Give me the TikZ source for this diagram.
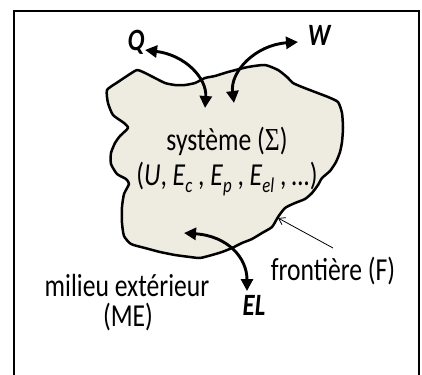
\documentclass[tikz,border=0pt]{standalone}
\usepackage{fontspec}
\setmainfont{Carlito}[FakeStretch=0.8]
\newfontfamily\sigfont{Liberation Serif}[FakeStretch=0.8]
\usetikzlibrary{arrows.meta}
\definecolor{blobfill}{HTML}{EEECE1}
\newcommand\sbx[1]{\raisebox{-0.22em}{\fontsize{21}{21}\selectfont\itshape #1}}
\tikzset{
  lbl/.style={inner sep=0pt, font=\fontsize{32}{35}\selectfont},
  flux/.style={inner sep=0pt, font=\fontsize{31}{34}\selectfont\bfseries\itshape},
  exch/.style={line width=2.9pt, {Triangle[length=12pt,width=12pt]}-{Triangle[length=12pt,width=12pt]}},
  pointer/.style={line width=0.8pt, -{Straight Barb[length=6pt,width=8pt]}}
}
\begin{document}
\begin{tikzpicture}[x=1pt,y=-1pt]
\useasboundingbox (0,0) rectangle (422,374);
% frame
\draw[line width=2.4pt] (14,375) -- (14,11) -- (419,11) -- (419,375);
% system blob
\draw[line width=2.5pt, fill=blobfill, line join=round]
  plot[smooth cycle, tension=0.35] coordinates {
  (107,90) (118,82) (130,74) (137,70) (143,72) (153,77) (165,83) (175,85)
  (185,85) (195,83) (205,78) (215,76) (228,72) (248,67) (265,65) (278,70)
  (287,77) (293,83) (302,87) (315,92) (328,97) (338,102) (342,113) (343,128)
  (342,142) (340,152) (336,162) (330,171) (322,178) (318,185) (312,193) (305,199)
  (295,203) (285,208) (278,217) (272,227) (262,233) (252,239) (242,243) (232,248)
  (222,252) (212,255) (200,258) (190,257) (175,255) (160,252) (145,248) (131,244)
  (124,236) (122,223) (122,207) (124,194) (129,184) (126,179) (117,174) (111,164)
  (111,153) (115,143) (120,136) (128,128) (124,123) (113,115) (108,103)};
% texts
\node[lbl, anchor=base] (sys) at (227,150) {système ({\sigfont Σ})};
\node[lbl, anchor=base] (vars) at (227,185) {(\textit{U}, \textit{E}\sbx{c} , \textit{E}\sbx{p} , \textit{E}\sbx{el} , \textit{…})};
\node[lbl, anchor=base] (front) at (333,280) {frontière (F)};
\node[lbl, anchor=base] (milieu) at (127,296) {milieu extérieur};
\node[lbl, anchor=base] (me) at (128,326) {(ME)};
\node[flux, anchor=base] (Q) at (136,51) {Q};
\node[flux, anchor=base] (W) at (319,46) {W};
\node[flux, anchor=base] (EL) at (254,315) {EL};
% arrow end points
\coordinate (qa) at (145,50);
\coordinate (qb) at (205,108);
\coordinate (wa) at (298,42);
\coordinate (wb) at (234,103);
\coordinate (ea) at (184,233);
\coordinate (eb) at (247,291);
\coordinate (fa) at (333,248);
\coordinate (fb) at (278,218);
\draw[exch] (qa) .. controls (185,55) and (207,78) .. (qb);
\draw[exch] (wa) .. controls (255,45) and (230,72) .. (wb);
\draw[exch] (ea) .. controls (228,236) and (247,258) .. (eb);
\draw[pointer] (fa) -- (fb);
\end{tikzpicture}
\end{document}
